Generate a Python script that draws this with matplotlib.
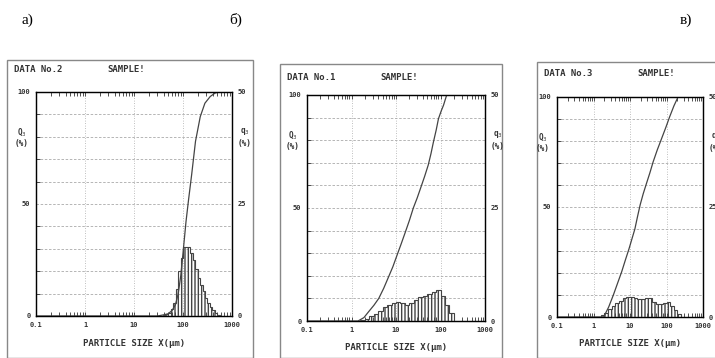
import numpy as np
import matplotlib.pyplot as plt
from matplotlib.patches import Rectangle

# Read in data (values estimated from the scanned charts)
# panel a) DATA No.2
a_edges = [39.8, 44.7, 50.1, 56.2, 63.1, 70.8, 79.4, 89.1, 100, 112, 126, 141,
           158, 178, 200, 224, 251, 282, 316, 355, 398, 447, 501, 562]
a_q3 = [0.25, 0.5, 0.75, 1.5, 3, 6, 10, 13, 15.5, 15.5, 15.5, 14, 12.5, 10.5,
        8.5, 7, 5.5, 4, 3, 2, 1.25, 0.75, 0.25]
a_size = [0.1, 30, 40, 50, 60, 70, 80, 90, 100, 115, 130, 150, 180, 225, 280, 360, 450, 520, 1000]
a_Q3 = [0, 0, 0.5, 1, 2.5, 5, 10, 18, 28, 42, 52, 63, 78, 89, 95, 98, 99.5, 100, 100]

# panel б) DATA No.1
b_edges = [1.58, 2.0, 2.51, 3.16, 3.98, 5.01, 6.31, 7.94, 10, 12.6, 15.8, 20,
           25.1, 31.6, 39.8, 50.1, 63.1, 79.4, 100, 126, 158, 200]
b_q3 = [0.25, 0.5, 1, 1.5, 2.25, 3, 3.5, 4, 4.25, 4, 3.5, 4, 4.75, 5.25, 5.5,
        6, 6.5, 6.75, 5.5, 3.5, 1.75]
b_size = [0.1, 1.4, 1.9, 2.4, 3.2, 4.1, 5.3, 6.8, 8.5, 10.5, 13, 16, 20, 24.5, 30,
          36, 44, 53, 61, 69, 80, 90, 104, 117, 128, 138, 1000]
b_Q3 = [0, 0, 1.5, 4, 7, 10, 14.5, 19.5, 24, 29, 34, 39, 44.5, 50, 54.5,
        59, 64, 69, 74, 79, 84.5, 89.5, 93, 95.5, 98, 100, 100]

# panel в) DATA No.3
c_edges = [1.58, 2.0, 2.51, 3.16, 3.98, 5.01, 6.31, 7.94, 10, 12.6, 15.8, 20,
           25.1, 31.6, 39.8, 50.1, 63.1, 79.4, 100, 126, 158, 200, 251]
c_q3 = [0.5, 1, 1.75, 2.5, 3.25, 3.75, 4.25, 4.5, 4.5, 4.25, 4, 4, 4.25, 4.25,
        3.5, 3, 3, 3.25, 3.5, 2.5, 1.5, 0.75]
c_size = [0.1, 1.9, 2.6, 3.5, 4.6, 5.9, 7.5, 9.4, 11.3, 13.6, 16, 19, 23, 28, 35,
          43, 56, 73, 95, 122, 160, 207, 1000]
c_Q3 = [0, 0, 4.5, 10, 15.5, 20.5, 26, 31, 35.5, 40, 45.5, 51, 56, 60.5, 65.5,
        70.5, 76, 81, 86, 91, 96, 100, 100]

panel_letters = ['а)', 'б)', 'в)']
data_titles = ['DATA No.2', 'DATA No.1', 'DATA No.3']
x_ticks = [0.1, 1, 10, 100, 1000]
x_tick_labels = ['0.1', '1', '10', '100', '1000']

W, H = 715, 358
fig = plt.figure(figsize=(7.15, 3.58), dpi=100)
mono = 'DejaVu Sans Mono'
ink = '#333333'


def fx(x):
    return x / W


def fy(y):
    return 1 - y / H


def draw_panel(box, frame, title_y, title, edges, q3, size, Q3):
    l, r, t, b = box
    # outer frame of the printout
    fl, ft, fr = frame
    fig.add_artist(Rectangle((fx(fl), 0), fx(fr) - fx(fl), fy(ft), transform=fig.transFigure,
                             fill=False, edgecolor='#888888', lw=1.0))
    ax = fig.add_axes([fx(l), fy(b), fx(r) - fx(l), fy(t) - fy(b)])
    ax.set_xscale('log')
    ax.set_xlim(0.1, 1000)
    ax.set_ylim(0, 100)
    ax.set_xticks(x_ticks)
    ax.set_xticklabels(x_tick_labels, family=mono, fontsize=5, weight='bold', color=ink)
    ax.set_yticks([0, 50, 100])
    ax.set_yticklabels(['0', '50', '100'], family=mono, fontsize=5, weight='bold', color=ink)
    ax.set_yticks(range(0, 101, 10), minor=True)
    ax.tick_params(which='both', direction='in', top=True, length=3, width=0.6,
                   color=ink, pad=4)
    ax.tick_params(axis='y', which='major', length=0)
    ax.grid(axis='y', which='both', ls=(0, (3, 2)), color='#aaaaaa', lw=0.6)
    ax.grid(axis='x', which='major', ls=(0, (1, 2)), color='#aaaaaa', lw=0.6)
    for s in ax.spines.values():
        s.set_color('#222222')
        s.set_linewidth(1.0)
    ax.plot(size, Q3, color='#444444', lw=0.9)

    ax2 = ax.twinx()
    ax2.set_ylim(0, 50)
    ax2.set_yticks([0, 25, 50])
    ax2.set_yticklabels(['0', '25', '50'], family=mono, fontsize=5, weight='bold', color=ink)
    ax2.tick_params(length=0, pad=4)
    ax2.stairs(q3, edges, fill=True, facecolor='none', edgecolor='#444444',
               hatch='|||||', lw=0.8)

    fig.text(fx(fl + 7), fy(title_y), title, family=mono, fontsize=6.5,
             weight='bold', color=ink, va='center')
    fig.text(fx(fl + 100), fy(title_y), 'SAMPLE!', family=mono, fontsize=6.5,
             weight='bold', color=ink, va='center')
    fig.text(fx(l - 14), fy(t + 45), 'Q$_3$\n(%)', family=mono, fontsize=5.5,
             weight='bold', color=ink, ha='center', va='center')
    fig.text(fx(r + 13), fy(t + 45), 'q$_3$\n(%)', family=mono, fontsize=5.5,
             weight='bold', color=ink, ha='center', va='center')
    fig.text(fx((l + r) / 2), fy(b + 27), 'PARTICLE SIZE X(\u03bcm)', family=mono,
             fontsize=6.5, weight='bold', color=ink, ha='center', va='center')
    return ax


panels = [
    ((36, 232, 92, 316), (7, 60, 253), 70, data_titles[0], a_edges, a_q3, a_size, a_Q3),
    ((307, 485, 95, 321), (280, 64, 502), 77, data_titles[1], b_edges, b_q3, b_size, b_Q3),
    ((557, 703, 97, 317), (537, 62, 730), 73, data_titles[2], c_edges, c_q3, c_size, c_Q3),
]
for p in panels:
    draw_panel(*p)

for letter, x in zip(panel_letters, [22, 229, 680]):
    fig.text(fx(x), fy(20), letter, family='Liberation Serif', fontsize=11,
             va='center', ha='left')

plt.savefig('out.png', dpi=100)
